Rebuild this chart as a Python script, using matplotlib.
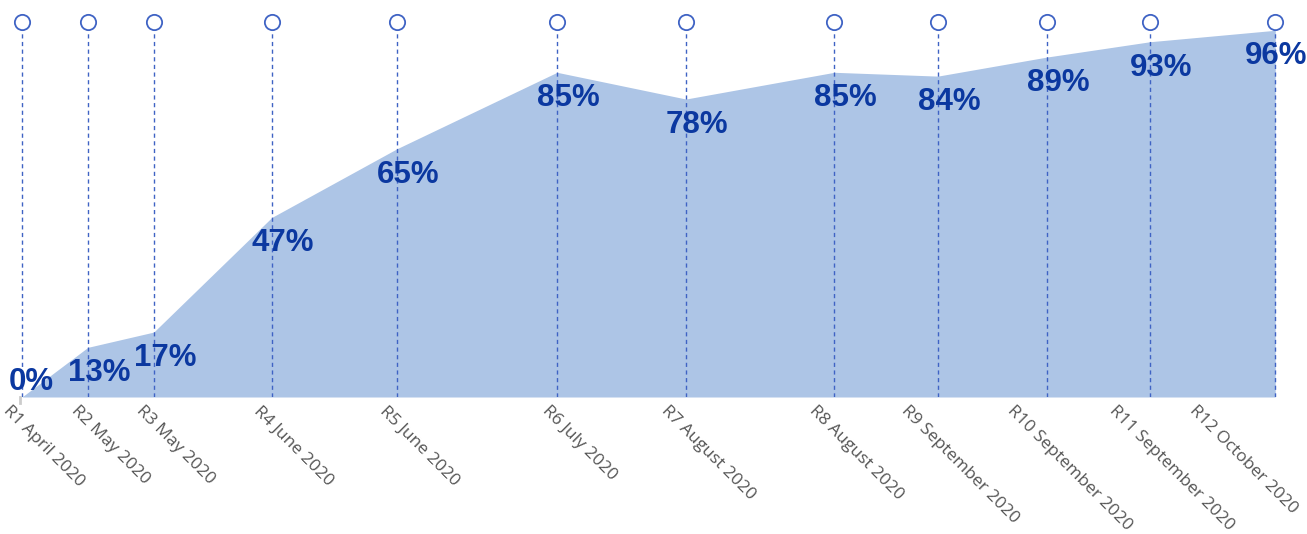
import matplotlib.pyplot as plt

rounds = ["R1 April 2020", "R2 May 2020", "R3 May 2020", "R4 June 2020",
          "R5 June 2020", "R6 July 2020", "R7 August 2020", "R8 August 2020",
          "R9 September 2020", "R10 September 2020", "R11 September 2020",
          "R12 October 2020"]
days = [0, 9.1, 18.2, 34.5, 51.8, 73.9, 91.7, 112.2, 126.5, 141.6, 155.8, 173.1]
values = [0, 13, 17, 47, 65, 85, 78, 85, 84, 89, 93, 96]

area_col = "#adc5e6"
line_col = "#3f63c4"
text_col = "#0b38a0"

fig = plt.figure(figsize=(13.07, 5.34), dpi=100)
ax = fig.add_axes([0, 137 / 534, 1, 382 / 534])
ax.set_xlim(-22 / 7.24, -22 / 7.24 + 1307 / 7.24)
ax.set_ylim(0, 100)
ax.axis("off")

# filled area
ax.fill_between(days, values, 0, color=area_col, lw=0, zorder=1)

# dashed guide lines with open circles on top
ax.vlines(days, 0, 98, colors=line_col, linestyles=(0, (3, 2.5)), lw=1, zorder=2)
ax.plot(days, [98.2] * len(days), "o", ms=11, mfc="white", mec=line_col,
        mew=1.3, clip_on=False, zorder=3)

# small grey tick at the origin
ax.plot([days[0] - 0.3, days[0] - 0.3], [0, -1.6], color="#cccccc", lw=2,
        clip_on=False)

# value labels
for i, (d, v) in enumerate(zip(days, values)):
    dx = 11 if i < len(days) - 1 else 1
    if v == 0:
        ax.annotate("0%", (d, 0), xytext=(9, 0), textcoords="offset pixels",
                    ha="center", va="bottom", fontsize=22.5, fontweight="bold",
                    color=text_col, family="Liberation Sans", zorder=4)
        continue
    ax.annotate(f"{v}%", (d, v), xytext=(dx, -11), textcoords="offset pixels",
                ha="center", va="top", fontsize=22.5, fontweight="bold",
                color=text_col, family="Liberation Sans", zorder=4)

# rotated round labels below the baseline
labels = []
for d, lab in zip(days, rounds):
    t = ax.annotate(lab, (d, 0), xytext=(22, -6), textcoords="offset pixels",
                    rotation=-45, ha="center", va="top",
                    fontsize=12.5, color="#555555", family="Open Sans")
    labels.append(t)

# keep the last labels inside the picture
fig.canvas.draw()
r = fig.canvas.get_renderer()
for t in labels:
    bb = t.get_window_extent(r)
    over = bb.x1 - (fig.bbox.width - 6)
    if over > 0:
        dx, dy = t.xyann
        t.xyann = (dx - over, dy)

fig.savefig("out.png", dpi=100)
